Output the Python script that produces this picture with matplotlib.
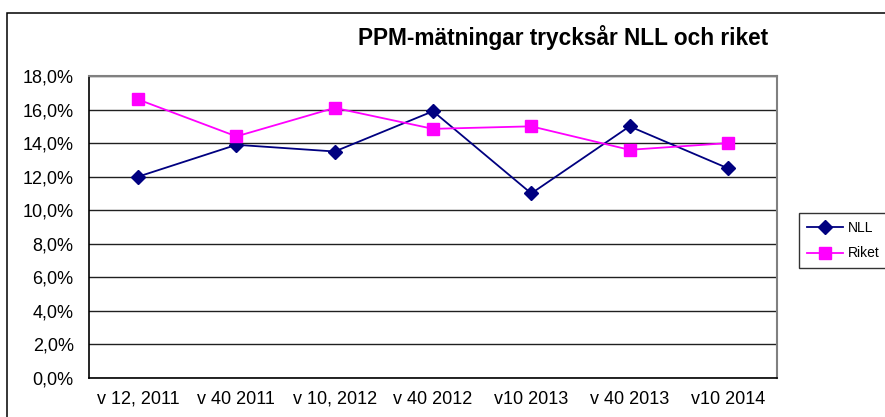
import matplotlib
matplotlib.use("Agg")
import matplotlib.pyplot as plt
from matplotlib.patches import Rectangle
from matplotlib.ticker import FuncFormatter

categories = ["v 12, 2011", "v 40 2011", "v 10, 2012", "v 40 2012", "v10 2013", "v 40 2013", "v10 2014"]
nll = [12.0, 13.9, 13.5, 15.9, 11.0, 15.0, 12.5]
riket = [16.6, 14.4, 16.1, 14.85, 15.0, 13.6, 14.0]
yticks = [0, 2, 4, 6, 8, 10, 12, 14, 16, 18]

plt.rcParams['font.family'] = ['Liberation Sans', 'DejaVu Sans']

W, H = 885, 417
fig = plt.figure(figsize=(W / 100, H / 100), dpi=100)
fig.patch.set_facecolor('white')

# outer chart border (cropped on right/bottom)
fig.patches.append(Rectangle((7 / W, -0.2), 1.3, 1.2 - 13 / H,
                             transform=fig.transFigure, fill=False,
                             edgecolor='black', linewidth=1.1))

ax = fig.add_axes([89 / W, 1 - 378 / H, (777 - 89) / W, (378 - 76) / H])
x = list(range(len(categories)))
ax.plot(x, nll, color='#000080', marker='D', markersize=7, linewidth=1.3, label='NLL', zorder=3)
ax.plot(x, riket, color='#FF00FF', marker='s', markersize=8, linewidth=1.3, label='Riket', zorder=3)

ax.set_xlim(-0.5, len(categories) - 0.5)
ax.set_ylim(0, 18)
ax.set_yticks(yticks)
ax.yaxis.set_major_formatter(FuncFormatter(lambda v, p: f"{v:.1f}%".replace('.', ',')))
ax.set_xticks(x)
ax.set_xticklabels(categories)
ax.tick_params(axis='both', length=0, labelsize=13)
ax.tick_params(axis='y', pad=11)
ax.tick_params(axis='x', pad=9)
ax.grid(axis='y', color='#202020', linewidth=1.0)
ax.set_axisbelow(True)
for s in ['left', 'bottom']:
    ax.spines[s].set_color('black')
    ax.spines[s].set_linewidth(1.2)
for s in ['top', 'right']:
    ax.spines[s].set_color('#808080')
    ax.spines[s].set_linewidth(1.5)

fig.text(563 / W, 1 - 38 / H, "PPM-mätningar trycksår NLL och riket",
         ha='center', va='center', fontsize=16.3, fontweight='bold')

leg = fig.legend(loc='upper left', bbox_to_anchor=(799 / W, 1 - 213 / H),
                 fontsize=10, frameon=True, fancybox=False, edgecolor='black',
                 handlelength=2.6, handletextpad=0.35, borderpad=0.55,
                 labelspacing=0.85, borderaxespad=0)
leg.get_frame().set_linewidth(1.0)

fig.savefig("out.png", dpi=100, facecolor='white')
